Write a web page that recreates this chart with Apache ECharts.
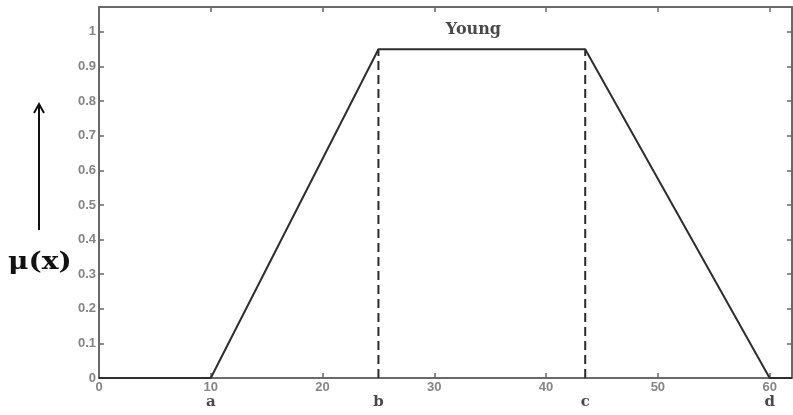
<!DOCTYPE html>
<html>
<head>
<meta charset="utf-8">
<script src="https://cdn.jsdelivr.net/npm/echarts@6/dist/echarts.min.js"></script>
<style>
  html, body { margin: 0; padding: 0; background: #fff; }
  #chart { width: 793px; height: 415px; }
</style>
</head>
<body>
<div id="chart"></div>
<script>
// Trapezoidal membership function for the fuzzy set "Young"
const breakPoints = [0, 10, 25, 43.5, 60, 62];
const membership  = [0, 0, 0.95, 0.95, 0, 0];
const pointNames  = ['a', 'b', 'c', 'd'];
const pointX      = [10, 25, 43.5, 60];
const dashedX     = [25, 43.5];
const plateau     = 0.95;
const setName     = 'Young';
const setLabelPos = [33.5, 1.005];
const xTicks      = [0, 10, 20, 30, 40, 50, 60];
const yTicks      = [0, 0.1, 0.2, 0.3, 0.4, 0.5, 0.6, 0.7, 0.8, 0.9, 1];

const X_MAX = 62, Y_MAX = 1.072;

const chart = echarts.init(document.getElementById('chart'), null, { renderer: 'canvas' });

const axisGray = '#6a6a6a';
const tickFont = { color: '#858585', fontSize: 13, fontWeight: 'bold', fontFamily: 'Liberation Sans, Arial, sans-serif' };
const serifBold = '"DejaVu Serif", "Liberation Serif", serif';

function fmtY(v) {
  const r = Math.round(v * 10) / 10;
  return yTicks.some(t => Math.abs(t - r) < 1e-9) && Math.abs(v - r) < 1e-6 ? String(r) : '';
}

const curve = breakPoints.map((x, i) => [x, membership[i]]);

const dashedSeries = dashedX.map(x => ({
  type: 'line',
  data: [[x, 0], [x, plateau]],
  symbol: 'none',
  lineStyle: { color: '#2a2a2a', width: 2, type: [9, 5] },
  silent: true,
  z: 3
}));

chart.setOption({
  animation: false,
  backgroundColor: '#ffffff',
  grid: { left: 99, right: 1, top: 7, bottom: 37, containLabel: false },
  xAxis: [
    {
      type: 'value', min: 0, max: X_MAX, interval: 10, position: 'bottom',
      axisLine: { show: true, onZero: false, lineStyle: { color: axisGray, width: 2 } },
      axisTick: { show: true, inside: true, length: 5, lineStyle: { color: axisGray, width: 1.5 } },
      axisLabel: Object.assign({ margin: 3, showMaxLabel: false,
        formatter: v => xTicks.includes(v) ? String(v) : '' }, tickFont),
      splitLine: { show: false }
    },
    {
      type: 'value', min: 0, max: X_MAX, interval: 10, position: 'top',
      axisLine: { show: true, onZero: false, lineStyle: { color: axisGray, width: 2 } },
      axisTick: { show: true, inside: true, length: 5, lineStyle: { color: axisGray, width: 1.5 } },
      axisLabel: { show: false },
      splitLine: { show: false }
    }
  ],
  yAxis: [
    {
      type: 'value', min: 0, max: Y_MAX, interval: 0.1, position: 'left',
      axisLine: { show: true, onZero: false, lineStyle: { color: axisGray, width: 2 } },
      axisTick: { show: true, inside: true, length: 5, lineStyle: { color: axisGray, width: 1.5 } },
      axisLabel: Object.assign({ margin: 3, showMaxLabel: false, formatter: fmtY }, tickFont),
      splitLine: { show: false }
    },
    {
      type: 'value', min: 0, max: Y_MAX, interval: 0.1, position: 'right',
      axisLine: { show: true, onZero: false, lineStyle: { color: axisGray, width: 2 } },
      axisTick: { show: true, inside: true, length: 5, lineStyle: { color: axisGray, width: 1.5 } },
      axisLabel: { show: false },
      splitLine: { show: false }
    }
  ],
  series: [
    {
      type: 'line',
      data: curve,
      symbol: 'none',
      lineStyle: { color: '#2e2e2e', width: 2 },
      silent: true,
      z: 4
    },
    ...dashedSeries,
    {
      // letter markers a..d under the x axis
      type: 'scatter',
      data: pointX.map((x, i) => ({ value: [x, 0], name: pointNames[i] })),
      symbolSize: 0,
      silent: true,
      label: {
        show: true, position: 'bottom', distance: 17,
        formatter: p => p.name,
        color: '#1a1a1a', fontSize: 15, fontWeight: 'bold',
        fontFamily: serifBold
      }
    },
    {
      type: 'scatter',
      data: [{ value: setLabelPos, name: setName }],
      symbolSize: 0,
      silent: true,
      label: {
        show: true, position: 'inside',
        formatter: p => p.name,
        color: '#1a1a1a', fontSize: 16, fontWeight: 'bold',
        fontFamily: serifBold
      }
    }
  ],
  graphic: [
    {
      type: 'line',
      shape: { x1: 39, y1: 230, x2: 39, y2: 106 },
      style: { stroke: '#111', lineWidth: 2 }
    },
    {
      type: 'polyline',
      shape: { points: [[34, 113], [39, 104], [44, 113]] },
      style: { stroke: '#111', lineWidth: 2, fill: null }
    },
    {
      type: 'text',
      x: 8, y: 262,
      scaleX: 1.12,
      style: {
        text: 'μ(x)',
        font: 'bold 25px "DejaVu Serif", "Liberation Serif", serif',
        fill: '#111',
        textVerticalAlign: 'middle'
      }
    }
  ]
});
</script>
</body>
</html>
